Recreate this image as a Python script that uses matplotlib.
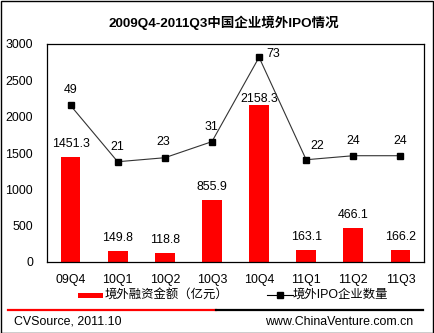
import numpy as np
import matplotlib.pyplot as plt
from matplotlib.lines import Line2D
from matplotlib.patches import Rectangle

plt.rcParams['font.family'] = ['Liberation Sans', 'Noto Sans CJK SC']

quarters = ['09Q4', '10Q1', '10Q2', '10Q3', '10Q4', '11Q1', '11Q2', '11Q3']
amount = [1451.3, 149.8, 118.8, 855.9, 2158.3, 163.1, 466.1, 166.2]
count = [49, 21, 23, 31, 73, 22, 24, 24]

W, H = 434, 333
fs = 8.9


def fx(px):
    return px / W


def fy(py):
    return 1 - py / H


fig = plt.figure(figsize=(W / 100, H / 100), dpi=100)
ax = fig.add_axes([fx(47), fy(262), (424 - 47) / W, (262 - 44) / H])

x = np.arange(len(quarters))
ax.bar(x, amount, width=0.42, color='#ff0000', zorder=2)
# bar labels (10Q4 label sits tight against the line above it)
bar_dy = [13, 13, 13, 13, 6, 13, 13, 13]
for i, v in enumerate(amount):
    ax.annotate(f'{v:.1f}', (i, v), xytext=(0, bar_dy[i]), textcoords='offset pixels',
                ha='center', va='center', fontsize=fs)
ax.set_xlim(-0.5, len(quarters) - 0.5)
ax.set_ylim(0, 3000)
ax.set_yticks(range(0, 3001, 500))
ax.set_xticks(x)
ax.set_xticklabels(quarters)
ax.tick_params(axis='both', length=0, labelsize=fs)
ax.tick_params(axis='y', pad=10)
ax.tick_params(axis='x', pad=9)
for s in ax.spines.values():
    s.set_linewidth(0.9)

ax2 = ax.twinx()
ax2.plot(x, count, color='#333333', lw=0.8, marker='s', ms=4.5,
         mfc='black', mec='black')
ax2.set_ylim(-28.9, 79.6)
ax2.set_yticks([])
for s in ax2.spines.values():
    s.set_visible(False)
offs = [(0, 15), (0, 15), (-2, 16), (0, 15), (14, 3), (11, 14), (0, 15), (0, 15)]
for i, v in enumerate(count):
    dx, dy = offs[i]
    ax2.annotate(str(v), (i, v), xytext=(dx, dy), textcoords='offset pixels',
                 ha='center', va='center', fontsize=fs)

fig.text(fx(223.5), fy(23), '2009Q4-2011Q3中国企业境外IPO情况', ha='center',
         va='center', fontsize=9.7, fontweight='bold')

# legend
fig.add_artist(Rectangle((fx(78), fy(298)), 25 / W, 5 / H, transform=fig.transFigure,
                         color='#ff0000', lw=0))
fig.text(fx(105), fy(295), '境外融资金额（亿元）', ha='left', va='center', fontsize=fs)
fig.add_artist(Line2D([fx(267), fx(293)], [fy(295)] * 2, color='black', lw=0.8))
fig.add_artist(Line2D([fx(280)], [fy(295)], color='black', marker='s', ms=4.5))
fig.text(fx(293), fy(295), '境外IPO企业数量', ha='left', va='center', fontsize=fs)

fig.add_artist(Line2D([fx(8), fx(216)], [fy(310)] * 2, color='#ff0000', lw=1.6))
fig.add_artist(Line2D([fx(216), fx(423)], [fy(310)] * 2, color='black', lw=1.6))
fig.text(fx(14), fy(322), 'CVSource, 2011.10', ha='left', va='center', fontsize=fs)
fig.text(fx(413), fy(322), 'www.ChinaVenture.com.cn', ha='right', va='center',
         fontsize=fs)
fig.add_artist(Rectangle((0.5 / W, 0.5 / H), 1 - 1.5 / W, 1 - 1.5 / H,
                         transform=fig.transFigure, fill=False, ec='black', lw=1))

fig.savefig('out.png', dpi=100)
